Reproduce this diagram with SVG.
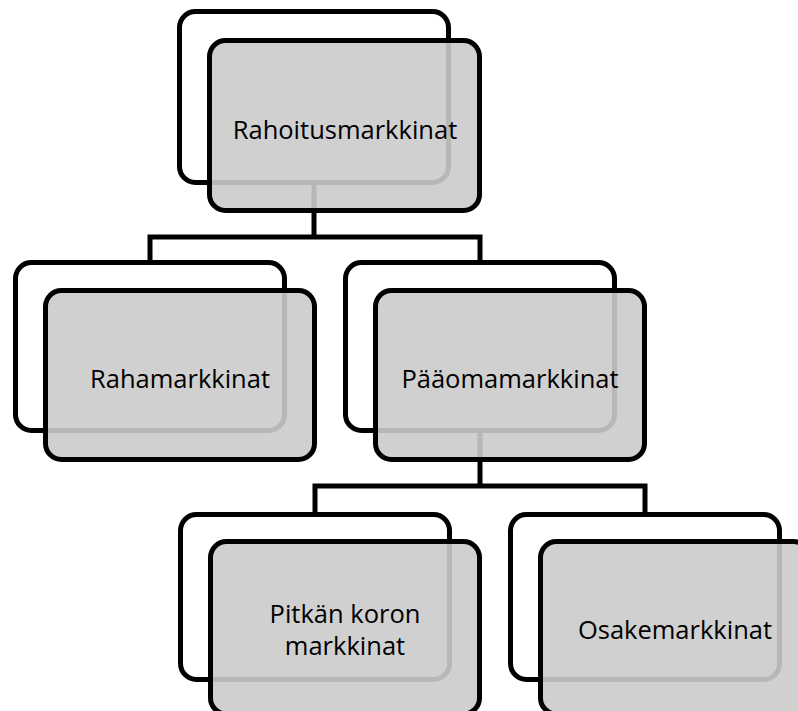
<svg xmlns="http://www.w3.org/2000/svg" width="798" height="711" viewBox="0 0 798 711">
<style>
.back{fill:#ffffff;stroke:#000000;stroke-width:5}
.front{fill:#cbcbcb;fill-opacity:0.9;stroke:#000000;stroke-width:5}
.conn{fill:none;stroke:#000000;stroke-width:5}
.lbl{font-family:"Open Sans","Noto Sans",sans-serif;font-size:25.5px;fill:#000000;text-anchor:middle}
</style>
<rect width="798" height="711" fill="#ffffff"/>
<g id="connectors">
<path class="conn" d="M150,262 V237 H480 V262 M314,183 V237"/>
<path class="conn" d="M315,514 V486 H645 V514 M480,431 V486"/>
</g>
<g id="node-rahoitusmarkkinat">
<rect class="back" x="179.5" y="11.5" width="269" height="171" rx="16"/>
<rect class="front" x="209.5" y="40.5" width="270" height="170" rx="16"/>
<text class="lbl" x="345" y="139">Rahoitusmarkkinat</text>
</g>
<g id="node-rahamarkkinat">
<rect class="back" x="15.5" y="262.5" width="269" height="168" rx="16"/>
<rect class="front" x="45.5" y="290.5" width="269" height="169" rx="16"/>
<text class="lbl" x="180" y="388">Rahamarkkinat</text>
</g>
<g id="node-paaomamarkkinat">
<rect class="back" x="345.5" y="262.5" width="269" height="168" rx="16"/>
<rect class="front" x="375.5" y="290.5" width="269" height="169" rx="16"/>
<text class="lbl" x="510" y="388">Pääomamarkkinat</text>
</g>
<g id="node-pitkan-koron">
<rect class="back" x="180.5" y="514.5" width="269" height="165" rx="16"/>
<rect class="front" x="210.5" y="541.5" width="269" height="172.5" rx="16"/>
<text class="lbl" x="345" y="623">Pitkän koron</text>
<text class="lbl" x="345" y="655">markkinat</text>
</g>
<g id="node-osakemarkkinat">
<rect class="back" x="510.5" y="514.5" width="269" height="165" rx="16"/>
<rect class="front" x="540.5" y="541.5" width="269" height="172.5" rx="16"/>
<text class="lbl" x="675" y="639">Osakemarkkinat</text>
</g>
</svg>
